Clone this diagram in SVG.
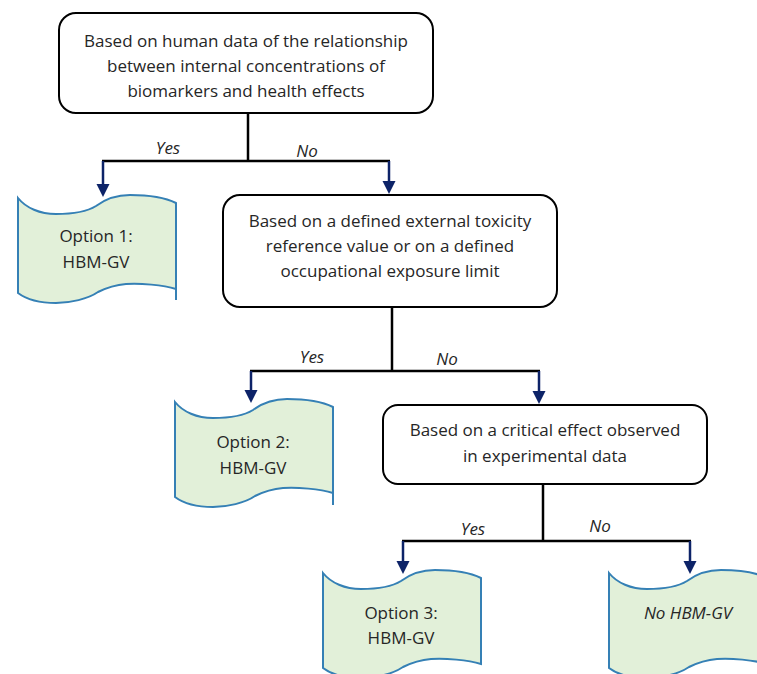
<svg xmlns="http://www.w3.org/2000/svg" width="757" height="674" viewBox="0 0 757 674">
<style>
text{font-family:"Open Sans","Liberation Sans",sans-serif;font-size:17px;fill:#262626;text-anchor:middle}
.it{font-style:italic}
.box{fill:#fff;stroke:#000;stroke-width:2}
.tape{fill:#E2F0D9;stroke:#3580B5;stroke-width:2}
.tail{fill:none;stroke:#3580B5;stroke-width:2}
.stem{fill:none;stroke:#000;stroke-width:2.5}
.arr{fill:none;stroke:#0D2368;stroke-width:2.5;marker-end:url(#ah)}
</style>
<defs>
<marker id="ah" markerUnits="userSpaceOnUse" markerWidth="14" markerHeight="14" refX="2" refY="6.5" orient="auto">
<path d="M0,0 L13,6.5 L0,13 Z" fill="#0D2368"/>
</marker>
<path id="tp" d="M0,0 C8,10 22,16 38,16 C56,16 70,13 78,8 C86,2 96,-3 112,-3 C130,-3 148,0 158,5 L158,91 C145,87 122,85 108,86 C96,87 88,90 80,94 C70,101 52,105 38,105 C22,105 8,101 0,95 Z"/>
</defs>
<g id="connectors">
<polyline class="stem" points="248,113 248,161"/>
<line class="stem" x1="102" y1="161" x2="390" y2="161"/>
<line class="arr" x1="103" y1="161" x2="103" y2="186"/>
<line class="arr" x1="389" y1="161" x2="389" y2="183"/>
<polyline class="stem" points="392,307 392,371"/>
<line class="stem" x1="250" y1="371" x2="540" y2="371"/>
<line class="arr" x1="251" y1="371" x2="251" y2="392"/>
<line class="arr" x1="539" y1="371" x2="539" y2="393"/>
<polyline class="stem" points="543,484 543,541"/>
<line class="stem" x1="402" y1="541" x2="691" y2="541"/>
<line class="arr" x1="403" y1="541" x2="403" y2="563"/>
<line class="arr" x1="690" y1="541" x2="690" y2="563"/>
<text class="it" x="168" y="154">Yes</text>
<text class="it" x="307" y="157">No</text>
<text class="it" x="312" y="363">Yes</text>
<text class="it" x="447" y="365">No</text>
<text class="it" x="473" y="535">Yes</text>
<text class="it" x="600" y="532">No</text>
</g>
<g id="q1">
<rect class="box" x="59" y="13" width="374" height="100" rx="17"/>
<text x="246" y="47">Based on human data of the relationship</text>
<text x="246" y="72">between internal concentrations of</text>
<text x="246" y="97">biomarkers and health effects</text>
</g>
<g id="q2">
<rect class="box" x="223" y="195" width="334" height="112" rx="17"/>
<text x="390" y="227">Based on a defined external toxicity</text>
<text x="390" y="252">reference value or on a defined</text>
<text x="390" y="277">occupational exposure limit</text>
</g>
<g id="q3">
<rect class="box" x="383" y="405" width="324" height="79" rx="15"/>
<text x="545" y="436">Based on a critical effect observed</text>
<text x="545" y="462">in experimental data</text>
</g>
<g id="opt1">
<use href="#tp" class="tape" transform="translate(18,198)"/>
<line class="tail" x1="176" y1="289" x2="176" y2="300"/>
<text x="96" y="242">Option 1:</text>
<text x="96" y="268">HBM-GV</text>
</g>
<g id="opt2">
<use href="#tp" class="tape" transform="translate(175,402)"/>
<line class="tail" x1="333" y1="493" x2="333" y2="505"/>
<text x="253" y="448">Option 2:</text>
<text x="253" y="474">HBM-GV</text>
</g>
<g id="opt3">
<use href="#tp" class="tape" transform="translate(323,573)"/>
<text x="401" y="619">Option 3:</text>
<text x="401" y="644">HBM-GV</text>
</g>
<g id="nohbm">
<use href="#tp" class="tape" transform="translate(609,573)"/>
<text class="it" x="688" y="619">No HBM-GV</text>
</g>
</svg>
